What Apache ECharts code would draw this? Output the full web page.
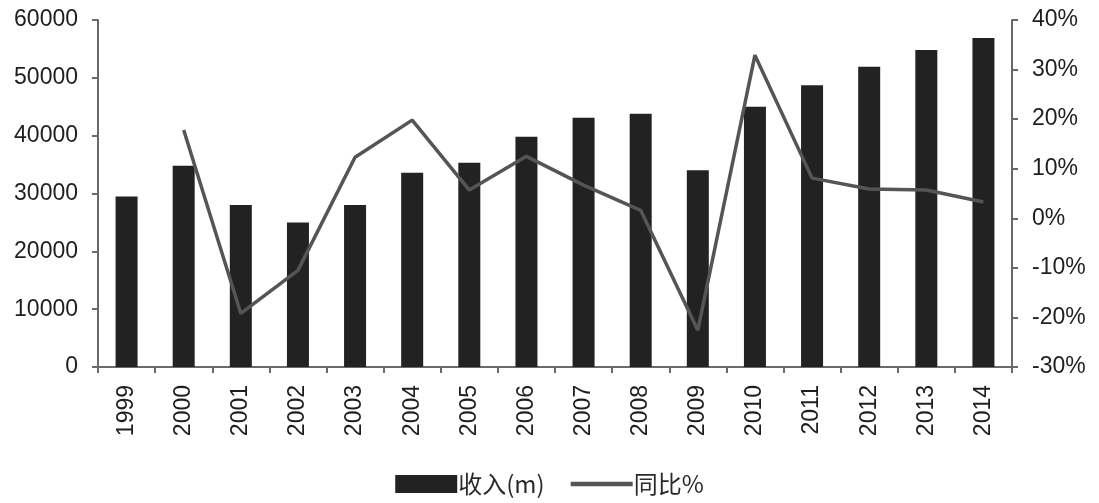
<!DOCTYPE html>
<html>
<head>
<meta charset="utf-8">
<script src="https://cdn.jsdelivr.net/npm/echarts@6/dist/echarts.min.js"></script>
<style>
html,body{margin:0;padding:0;background:#fff;}
#chart{width:1099px;height:503px;}
</style>
</head>
<body>
<div id="chart"></div>
<script>
const years = ['1999','2000','2001','2002','2003','2004','2005','2006','2007','2008','2009','2010','2011','2012','2013','2014'];
const revenue = [29500,34800,28000,25000,28000,33600,35300,39800,43100,43800,34000,45000,48700,51900,54800,56900];
const yoy = [null,17.8,-19.2,-10.5,12.3,19.8,5.7,12.5,6.7,1.6,-22.6,32.9,8.1,5.9,5.7,3.3];
const leftTicks = {min:0, max:60000, interval:10000};
const rightTicks = {min:-30, max:40, interval:10};

const chart = echarts.init(document.getElementById('chart'));
const fontFam = 'Liberation Sans, Arial, sans-serif';
const axisCol = '#6a6a6a';
chart.setOption({
  animation:false,
  backgroundColor:'#ffffff',
  grid:{left:98,right:87,top:20,bottom:136,containLabel:false},
  legend:{
    bottom:2,left:'center',
    itemWidth:62,itemHeight:18,itemGap:26,
    textStyle:{fontSize:24,color:'#2a2a2a',fontFamily:'Noto Sans CJK SC, sans-serif',padding:[0,0,0,-4]},
    data:[{name:'收入(m)',icon:'rect'},{name:'同比%',icon:'path://M0,0 L100,0 L100,7 L0,7 Z'}]
  },
  xAxis:{
    type:'category',data:years,
    axisLine:{lineStyle:{color:axisCol,width:2}},
    axisTick:{show:true,alignWithLabel:false,length:6,lineStyle:{color:axisCol,width:2}},
    axisLabel:{rotate:90,fontSize:23,color:'#1e1e1e',fontFamily:fontFam,margin:18}
  },
  yAxis:[{
    type:'value',min:leftTicks.min,max:leftTicks.max,interval:leftTicks.interval,
    position:'left',
    axisLine:{show:true,lineStyle:{color:axisCol,width:2}},
    axisTick:{show:true,length:6,lineStyle:{color:axisCol,width:2}},
    splitLine:{show:false},
    axisLabel:{fontSize:23,color:'#1e1e1e',fontFamily:fontFam,margin:20,formatter:function(v){return String(v);}}
  },{
    type:'value',min:rightTicks.min,max:rightTicks.max,interval:rightTicks.interval,
    position:'right',
    axisLine:{show:true,lineStyle:{color:axisCol,width:2}},
    axisTick:{show:true,length:6,lineStyle:{color:axisCol,width:2}},
    splitLine:{show:false},
    axisLabel:{fontSize:23,color:'#1e1e1e',fontFamily:fontFam,margin:20,formatter:'{value}%'}
  }],
  series:[{
    name:'收入(m)',type:'bar',data:revenue,yAxisIndex:0,barWidth:22,
    itemStyle:{color:'#222222'}
  },{
    name:'同比%',type:'line',data:yoy,yAxisIndex:1,symbol:'none',
    lineStyle:{color:'#555555',width:3.5},itemStyle:{color:'#555555'},connectNulls:false
  }]
});
</script>
</body>
</html>
